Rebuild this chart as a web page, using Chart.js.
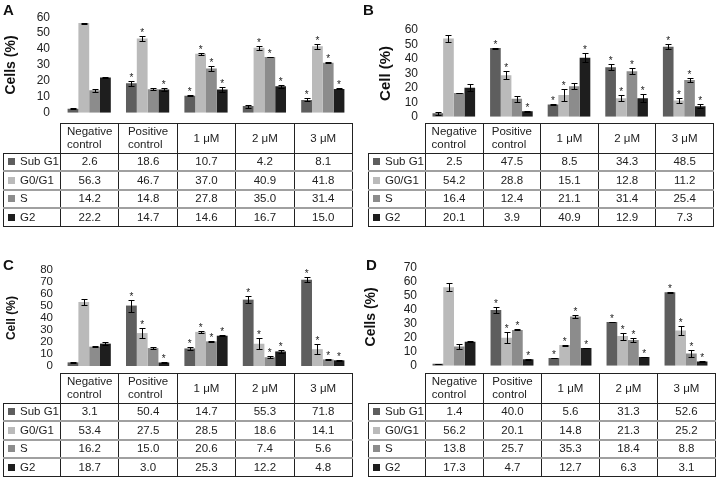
<!DOCTYPE html>
<html>
<head>
<meta charset="utf-8">
<script src="https://cdn.jsdelivr.net/npm/chart.js@4.4.0/dist/chart.umd.min.js"></script>
<style>
body { margin: 0; background: #fff; width: 716px; height: 477px; overflow: hidden; position: relative;
       font-family: "Liberation Sans", Arial, sans-serif; }
.panel { position: absolute; width: 358px; height: 238px; }
.panel canvas { position: absolute; left: 0; top: 0; }
.letter { position: absolute; font-weight: bold; font-size: 15px; color: #111; }
table { position: absolute; border-collapse: collapse; table-layout: fixed; font-size: 11.5px; color: #222; }
td { border: 1px solid #222; text-align: center; padding: 0; height: 16.5px; line-height: 13px; }
tr.h td { height: 28.5px; }
tr.h td.blank { border: none; }
tr.r + tr.r td { border-top: 2px solid #a0a0a0; }
td.lab { text-align: left; padding-left: 4px; white-space: nowrap; }
td span.hd { display: inline-block; text-align: left; }
.mk { display: inline-block; width: 7px; height: 7px; margin-right: 5px; vertical-align: 0px; }
</style>
</head>
<body>
<script>
const categories = ['Negative control', 'Positive control', '1 μM', '2 μM', '3 μM'];
const phases = ['Sub G1', 'G0/G1', 'S', 'G2'];
const phaseColors = ['#5e5e5e', '#bababa', '#8c8c8c', '#1e1e1e'];

// Panel A
const aSubG1 = [2.6, 18.6, 10.7, 4.2, 8.1];
const aG0G1 = [56.3, 46.7, 37.0, 40.9, 41.8];
const aS = [14.2, 14.8, 27.8, 35.0, 31.4];
const aG2 = [22.2, 14.7, 14.6, 16.7, 15.0];
const aErr = [[0.3, 1.5, 0.2, 1.0, 1.0], [0.3, 1.5, 0.8, 1.3, 1.5], [1.0, 0.8, 1.5, 0.2, 0.3], [0.4, 1.0, 1.5, 1.0, 0.3]];
const aStars = [[0, 1, 1, 0, 1], [0, 1, 1, 1, 1], [0, 0, 1, 1, 1], [0, 1, 1, 1, 1]];

// Panel B
const bSubG1 = [2.5, 47.5, 8.5, 34.3, 48.5];
const bG0G1 = [54.2, 28.8, 15.1, 12.8, 11.2];
const bS = [16.4, 12.4, 21.1, 31.4, 25.4];
const bG2 = [20.1, 3.9, 40.9, 12.9, 7.3];
const bErr = [[1.0, 0.3, 0.3, 2.0, 1.5], [2.5, 3.0, 4.0, 2.0, 2.0], [0.2, 2.0, 2.0, 2.0, 1.5], [2.5, 0.4, 3.0, 3.0, 1.5]];
const bStars = [[0, 1, 1, 1, 1], [0, 1, 1, 1, 1], [0, 0, 0, 1, 1], [0, 1, 1, 1, 1]];

// Panel C
const cSubG1 = [3.1, 50.4, 14.7, 55.3, 71.8];
const cG0G1 = [53.4, 27.5, 28.5, 18.6, 14.1];
const cS = [16.2, 15.0, 20.6, 7.4, 5.6];
const cG2 = [18.7, 3.0, 25.3, 12.2, 4.8];
const cErr = [[0.3, 5.0, 1.0, 3.0, 2.0], [2.5, 4.5, 0.8, 4.5, 4.0], [0.3, 0.8, 0.3, 1.0, 0.3], [1.5, 0.3, 0.5, 1.0, 0.3]];
const cStars = [[0, 1, 1, 1, 1], [0, 1, 1, 1, 1], [0, 0, 1, 1, 1], [0, 1, 1, 1, 1]];

// Panel D
const dSubG1 = [1.4, 40.0, 5.6, 31.3, 52.6];
const dG0G1 = [56.2, 20.1, 14.8, 21.3, 25.2];
const dS = [13.8, 25.7, 35.3, 18.4, 8.8];
const dG2 = [17.3, 4.7, 12.7, 6.3, 3.1];
const dErr = [[0.2, 2.0, 0.2, 0.3, 0.3], [3.0, 4.0, 0.3, 2.5, 3.5], [1.5, 0.3, 0.8, 1.5, 2.5], [0.3, 0.3, 0.3, 0.3, 0.5]];
const dStars = [[0, 1, 1, 1, 1], [0, 1, 1, 1, 1], [0, 1, 1, 1, 1], [0, 1, 1, 1, 1]];

const panels = [
    { letter: 'A', left: 0, top: 0, lx: 3, ly: 1, yTitle: 'Cells (%)', titleSize: 14, titleX: 11, yMax: 60,
      plotL: 60, plotR: 352, plotT: 17, plotB: 122, tickGap: 10, tickSize: 12, tableL: 3, tableT: 123,
      series: [aSubG1, aG0G1, aS, aG2], err: aErr, stars: aStars },
    { letter: 'B', left: 358, top: 0, lx: 5, ly: 1, yTitle: 'Cell (%)', titleSize: 15, titleX: 28, yMax: 60,
      plotL: 67, plotR: 355, plotT: 30, plotB: 123, tickGap: 7, tickSize: 12, tableL: 10, tableT: 123,
      series: [bSubG1, bG0G1, bS, bG2], err: bErr, stars: bStars },
    { letter: 'C', left: 0, top: 240, lx: 3, ly: 16, yTitle: 'Cell (%)', titleSize: 12, titleX: 12, yMax: 80,
      plotL: 60, plotR: 352, plotT: 30, plotB: 132, tickGap: 7, tickSize: 11.5, tableL: 3, tableT: 133,
      series: [cSubG1, cG0G1, cS, cG2], err: cErr, stars: cStars },
    { letter: 'D', left: 358, top: 240, lx: 8, ly: 16, yTitle: 'Cells (%)', titleSize: 14, titleX: 13, yMax: 70,
      plotL: 67, plotR: 357, plotT: 28, plotB: 133, tickGap: 8, tickSize: 12, tableL: 10, tableT: 133,
      series: [dSubG1, dG0G1, dS, dG2], err: dErr, stars: dStars }
];

// error bars + significance stars
const errorBarPlugin = {
    id: 'errorBars',
    afterDatasetsDraw: function (chart) {
        const ctx = chart.ctx;
        const y = chart.scales.y;
        ctx.save();
        ctx.strokeStyle = '#000';
        ctx.fillStyle = '#222';
        ctx.lineWidth = 1;
        ctx.font = '10px "Liberation Sans", Arial, sans-serif';
        ctx.textAlign = 'center';
        ctx.textBaseline = 'alphabetic';
        chart.data.datasets.forEach(function (ds, i) {
            chart.getDatasetMeta(i).data.forEach(function (bar, j) {
                const v = ds.data[j];
                const e = ds.errors[j];
                const x = Math.round(bar.x) + 0.5;
                const yt = Math.round(y.getPixelForValue(v + e)) + 0.5;
                const yb = Math.round(y.getPixelForValue(Math.max(v - e, 0))) + 0.5;
                ctx.beginPath();
                ctx.moveTo(x, yt); ctx.lineTo(x, yb);
                ctx.moveTo(x - 3, yt); ctx.lineTo(x + 3, yt);
                ctx.moveTo(x - 3, yb); ctx.lineTo(x + 3, yb);
                ctx.stroke();
                if (ds.stars[j]) {
                    ctx.fillText('*', bar.x, yt - 1);
                }
            });
        });
        ctx.restore();
    }
};

function buildTable(p) {
    const colW = (p.plotR - p.plotL) / 5;
    let html = '<colgroup><col style="width:' + (p.plotL - p.tableL) + 'px">';
    categories.forEach(function () { html += '<col style="width:' + colW + 'px">'; });
    html += '</colgroup><tr class="h"><td class="blank"></td>';
    categories.forEach(function (c) {
        html += '<td><span class="hd">' + c.replace(' control', '<br>control') + '</span></td>';
    });
    html += '</tr>';
    phases.forEach(function (ph, i) {
        html += '<tr class="r"><td class="lab"><span class="mk" style="background:' + phaseColors[i] + '"></span>' + ph + '</td>';
        p.series[i].forEach(function (v) { html += '<td>' + v.toFixed(1) + '</td>'; });
        html += '</tr>';
    });
    const table = document.createElement('table');
    table.innerHTML = html;
    table.style.left = p.tableL + 'px';
    table.style.top = p.tableT + 'px';
    table.style.width = (p.plotR - p.tableL) + 'px';
    return table;
}

panels.forEach(function (p) {
    const div = document.createElement('div');
    div.className = 'panel';
    div.style.left = p.left + 'px';
    div.style.top = p.top + 'px';
    document.body.appendChild(div);

    const canvas = document.createElement('canvas');
    canvas.width = p.plotR;
    canvas.height = p.plotB + 8;
    div.appendChild(canvas);

    div.appendChild(buildTable(p));

    const letter = document.createElement('div');
    letter.className = 'letter';
    letter.textContent = p.letter;
    letter.style.left = p.lx + 'px';
    letter.style.top = p.ly + 'px';
    div.appendChild(letter);

    new Chart(canvas.getContext('2d'), {
        type: 'bar',
        plugins: [errorBarPlugin],
        data: {
            labels: categories,
            datasets: phases.map(function (ph, i) {
                return {
                    label: ph,
                    data: p.series[i],
                    errors: p.err[i],
                    stars: p.stars[i],
                    backgroundColor: phaseColors[i],
                    borderWidth: 0,
                    categoryPercentage: 0.74,
                    barPercentage: 1.0
                };
            })
        },
        options: {
            responsive: false,
            animation: false,
            devicePixelRatio: 1,
            layout: { padding: { left: 0, right: 0, top: p.plotT, bottom: 8 } },
            plugins: { legend: { display: false }, tooltip: { enabled: false } },
            scales: {
                x: { display: false },
                y: {
                    min: 0,
                    max: p.yMax,
                    grid: { display: false, drawTicks: false },
                    border: { display: false },
                    ticks: {
                        stepSize: 10,
                        autoSkip: false,
                        padding: p.tickGap,
                        color: '#222',
                        font: { size: p.tickSize, family: '"Liberation Sans", Arial, sans-serif' }
                    },
                    title: {
                        display: true,
                        text: p.yTitle,
                        color: '#111',
                        padding: { top: p.titleX - p.titleSize * 0.6, bottom: 0 },
                        font: { size: p.titleSize, weight: 'bold', family: '"Liberation Sans", Arial, sans-serif' }
                    },
                    afterFit: function (scale) { scale.width = p.plotL; }
                }
            }
        }
    });
});
</script>
</body>
</html>
